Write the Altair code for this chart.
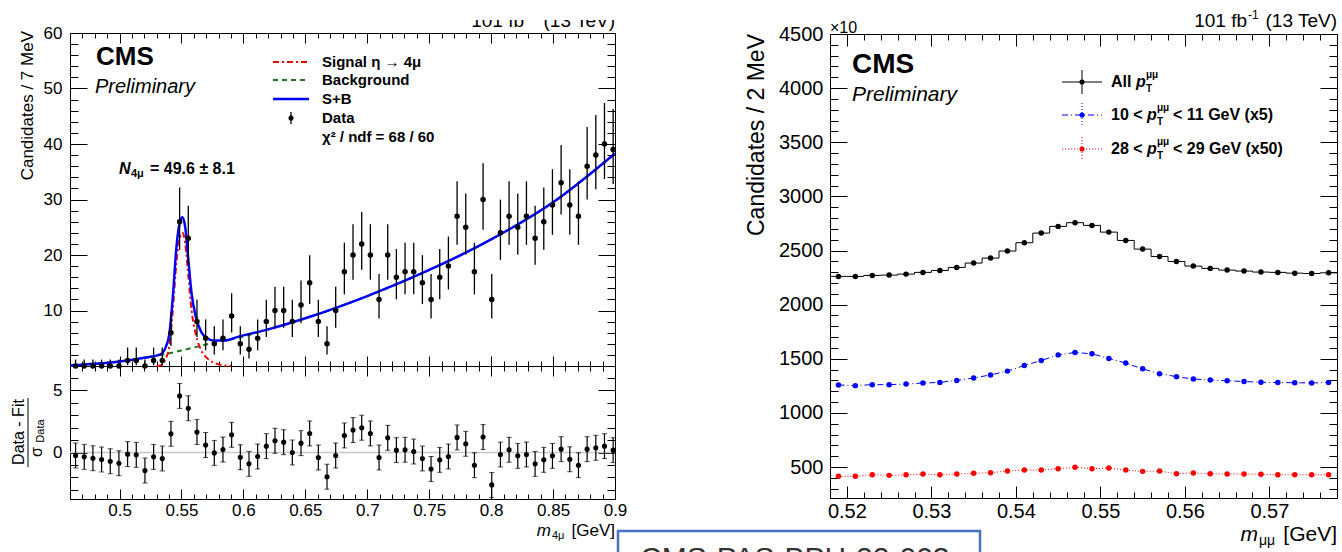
import math
import altair as alt
import pandas as pd

W, H = 1342, 552
FONT = "Liberation Sans"

# ---------------- eta -> 4mu candidates (7 MeV bins) ----------------
m4mu = [round(0.4645 + 0.007 * k, 4) for k in range(63)]
n4mu = [0, 0, 0, 0, 0, 0, 1, 1, 0, 1,
        1, 6, 26, 23, 8, 5, 4, 5, 9, 4,
        3, 5, 8, 10, 10, 8, 11, 15, 8, 4,
        10, 17, 20, 22, 20, 12, 20, 16, 17, 17,
        15, 12, 16, 18, 27, 25, 17, 30, 12, 24,
        27, 25, 27, 23, 26, 29, 33, 29, 27, 36,
        38, 40, 39]
pull4mu = [-0.24, -0.35, -0.46, -0.56, -0.70, -0.86, -0.13, -0.19, -1.45, -0.35,
           -0.48, 1.50, 4.54, 3.55, 1.64, 0.60, -0.03, 0.24, 1.42, -0.38,
           -0.91, -0.32, 0.51, 0.94, 0.83, 0.00, 0.75, 1.53, -0.40, -1.94,
           -0.24, 1.37, 1.80, 1.99, 1.53, -0.40, 1.18, 0.19, 0.22, 0.08,
           -0.48, -1.32, -0.59, -0.32, 1.21, 0.70, -1.02, 1.24, -2.60, -0.16,
           0.22, -0.27, -0.16, -0.91, -0.59, -0.27, 0.27, -0.54, -1.02, 0.27,
           0.38, 0.51, 0.19]

# fitted shapes
sb_x = [0.460, 0.480, 0.500, 0.520, 0.533, 0.5373, 0.5402, 0.5430, 0.5459, 0.5488,
        0.5508, 0.5531, 0.5554, 0.5582, 0.5617, 0.5660, 0.5703, 0.5760, 0.5846, 0.5961,
        0.620, 0.650, 0.700, 0.750, 0.800, 0.850, 0.900]
sb_y = [0.1, 0.4, 0.8, 1.5, 2.1, 3.4, 5.8, 12.4, 21.3, 26.0,
        26.8, 24.9, 19.5, 13.0, 8.8, 6.1, 5.1, 4.6, 4.6, 5.3,
        6.6, 8.6, 12.6, 17.3, 22.8, 29.5, 38.3]
bkg_x = [0.460, 0.480, 0.500, 0.520, 0.536, 0.550, 0.565, 0.580, 0.590, 0.620,
         0.650, 0.700, 0.750, 0.800, 0.850, 0.900]
bkg_y = [0.1, 0.4, 0.8, 1.5, 2.1, 2.8, 3.6, 4.4, 4.8, 6.6,
         8.6, 12.6, 17.3, 22.8, 29.5, 38.3]
sig_x = [0.530, 0.5330, 0.5373, 0.5402, 0.5430, 0.5459, 0.5488, 0.5508, 0.5531, 0.5554,
         0.5582, 0.5617, 0.5660, 0.5703, 0.5760, 0.5820, 0.5900]
sig_y = [0.0, 0.1, 1.3, 3.6, 10.0, 18.6, 23.2, 24.0, 21.9, 16.5,
         10.0, 5.6, 2.8, 1.5, 0.6, 0.2, 0.0]

# ---------------- dimuon mass (2 MeV bins) ----------------
mmumu = [round(0.519 + 0.002 * k, 3) for k in range(30)]
all_pt = [2261, 2261, 2270, 2273, 2282, 2298, 2316, 2344, 2384, 2430,
          2495, 2572, 2661, 2723, 2757, 2732, 2670, 2593, 2513, 2445,
          2399, 2356, 2335, 2319, 2310, 2301, 2298, 2291, 2288, 2294]
pt10_11 = [1258, 1252, 1261, 1261, 1267, 1276, 1282, 1300, 1323, 1351,
           1386, 1438, 1484, 1536, 1558, 1546, 1503, 1460, 1407, 1362,
           1335, 1313, 1303, 1297, 1290, 1283, 1280, 1279, 1276, 1282]
pt28_29 = [414, 414, 429, 423, 429, 436, 429, 436, 442, 448,
           463, 472, 472, 485, 497, 485, 491, 472, 460, 463,
           439, 445, 439, 436, 436, 433, 429, 429, 429, 429]

# ---------------- panel geometry ----------------
LX_D, LX_R = [0.46, 0.90], [70, 615]
LT_D, LT_R = [0, 60], [366, 33]
LR_D, LR_R = [-3.73, 6.94], [499, 366]
RX_D, RX_R = [0.518, 0.578], [830, 1337]
RY_D, RY_R = [214, 4500], [498, 34]


def lin(d, r):
    return alt.Scale(domain=d, range=r, nice=False, zero=False)


def tsize(step, big, small):
    return {"condition": {"test": f"abs(datum.value / {step} - round(datum.value / {step})) < 0.001",
                          "value": big},
            "value": small}


def frame(xd, xr, yd, yr, xticks, xstep, xlen, xlabels, yticks, ystep, ylen, ylabels,
          lsize, xpad, ypad):
    df = pd.DataFrame({"u": xd, "v": yd})
    base = alt.Chart(df).mark_point(opacity=0)
    st = dict(grid=False, title=None, labelFont=FONT, labelColor="black", labelFontSize=lsize,
              labelFlush=False, labelOverlap=False, domainColor="black", domainWidth=1,
              tickColor="black", tickWidth=1)
    lab = base.encode(
        x=alt.X("u:Q", scale=lin(xd, xr),
                axis=alt.Axis(orient="bottom", offset=yr[0] - H, values=xlabels if xlabels else xticks,
                              labels=bool(xlabels), ticks=False, tickSize=0, labelPadding=xpad,
                              format=".2~f", **st)),
        y=alt.Y("v:Q", scale=lin(yd, yr),
                axis=alt.Axis(orient="left", offset=-xr[0], values=ylabels, ticks=False, tickSize=0,
                              labelPadding=ypad, format="d", **st)),
    )
    inner = base.encode(
        x=alt.X("u:Q", scale=lin(xd, xr),
                axis=alt.Axis(orient="top", offset=-yr[0], values=xticks, labels=False, domain=False,
                              tickSize=tsize(xstep, *xlen), **st)),
        y=alt.Y("v:Q", scale=lin(yd, yr),
                axis=alt.Axis(orient="right", offset=xr[0] - W, values=yticks, labels=False, domain=False,
                              tickSize=tsize(ystep, *ylen), **st)),
    )
    outer = base.encode(
        x=alt.X("u:Q", scale=lin(xd, xr),
                axis=alt.Axis(orient="bottom", offset=yr[1] - H, values=xticks, labels=False,
                              tickSize=tsize(xstep, *xlen), **st)),
        y=alt.Y("v:Q", scale=lin(yd, yr),
                axis=alt.Axis(orient="left", offset=-xr[1], values=yticks, labels=False,
                              tickSize=tsize(ystep, *ylen), **st)),
    )
    return [lab, inner, outer]


def one():
    return pd.DataFrame({"a": [0]})


def text(s, x, y, size, weight="normal", style="normal", align="left", baseline="middle",
         angle=0, color="black"):
    return alt.Chart(pd.DataFrame({"s": [s]})).mark_text(
        font=FONT, fontSize=size, fontWeight=weight, fontStyle=style, align=align,
        baseline=baseline, angle=angle, color=color
    ).encode(text="s:N", x=alt.value(x), y=alt.value(y))


def hline(x1, x2, y, color, width=1.0, dash=None):
    kw = dict(color=color, strokeWidth=width)
    if dash:
        kw["strokeDash"] = dash
    return alt.Chart(one()).mark_rule(**kw).encode(x=alt.value(x1), x2=alt.value(x2), y=alt.value(y))


def vline(x, y1, y2, color, width=1.0, dash=None):
    kw = dict(color=color, strokeWidth=width)
    if dash:
        kw["strokeDash"] = dash
    return alt.Chart(one()).mark_rule(**kw).encode(x=alt.value(x), y=alt.value(y1), y2=alt.value(y2))


def dot(x, y, color, size=30):
    return alt.Chart(one()).mark_circle(color=color, size=size, opacity=1).encode(
        x=alt.value(x), y=alt.value(y))


def curve(xs, ys, color, width, dash=None, interp="monotone"):
    kw = dict(color=color, strokeWidth=width, interpolate=interp)
    if dash:
        kw["strokeDash"] = dash
    df = pd.DataFrame({"x": xs, "y": ys})
    return alt.Chart(df).mark_line(**kw).encode(
        x=alt.X("x:Q", scale=lin(LX_D, LX_R), axis=None),
        y=alt.Y("y:Q", scale=lin(LT_D, LT_R), axis=None))


layers = []

# ---- frames and axes ----
lx_ticks = [round(0.46 + 0.01 * i, 2) for i in range(45)]
lx_labels = [round(0.5 + 0.05 * i, 2) for i in range(9)]
layers += frame(LX_D, LX_R, LT_D, LT_R, lx_ticks, 0.05, (10, 5), None,
                list(range(0, 61, 2)), 10, (17, 8), list(range(10, 61, 10)), 17, 3, 8)
layers += frame(LX_D, LX_R, LR_D, LR_R, lx_ticks, 0.05, (10, 5), lx_labels,
                list(range(-3, 7)), 5, (17, 8), [0, 5], 17, 3, 8)
rx_ticks = [round(0.518 + 0.002 * i, 3) for i in range(31)]
rx_labels = [round(0.52 + 0.01 * i, 2) for i in range(6)]
layers += frame(RX_D, RX_R, RY_D, RY_R, rx_ticks, 0.01, (12, 6), rx_labels,
                list(range(300, 4501, 100)), 500, (17, 8), list(range(500, 4501, 500)), 20, 3, 7)

# ---- upper left: candidates with fit ----
top_df = pd.DataFrame({
    "m": m4mu, "n": n4mu,
    "lo": [0.0 if n == 0 else n - math.sqrt(n - 0.25) for n in n4mu],
    "hi": [1.15 if n == 0 else n + 1 + math.sqrt(n + 0.75) for n in n4mu],
})
layers.append(curve(bkg_x, bkg_y, "#1e7a1e", 2, [5, 4]))
layers.append(curve(sig_x, sig_y, "#ff0000", 2, [6, 3, 2, 3]))
layers.append(curve(sb_x, sb_y, "#0000ff", 2.5))
layers.append(alt.Chart(top_df).mark_rule(color="black", strokeWidth=1.3).encode(
    x=alt.X("m:Q", scale=lin(LX_D, LX_R), axis=None),
    y=alt.Y("lo:Q", scale=lin(LT_D, LT_R), axis=None), y2="hi:Q"))
layers.append(alt.Chart(top_df).mark_circle(color="black", size=30, opacity=1).encode(
    x=alt.X("m:Q", scale=lin(LX_D, LX_R), axis=None),
    y=alt.Y("n:Q", scale=lin(LT_D, LT_R), axis=None)))

# ---- lower left: pulls ----
pull_df = pd.DataFrame({"m": m4mu, "p": pull4mu,
                        "lo": [p - 1.0 for p in pull4mu], "hi": [p + 1.0 for p in pull4mu]})
layers.append(alt.Chart(pd.DataFrame({"a": [LX_D[0]], "b": [LX_D[1]], "z": [0.0]})).mark_rule(
    color="#c8c8c8", strokeWidth=1.5).encode(
    x=alt.X("a:Q", scale=lin(LX_D, LX_R), axis=None), x2="b:Q",
    y=alt.Y("z:Q", scale=lin(LR_D, LR_R), axis=None)))
layers.append(alt.Chart(pull_df).mark_rule(color="black", strokeWidth=1.2).encode(
    x=alt.X("m:Q", scale=lin(LX_D, LX_R), axis=None),
    y=alt.Y("lo:Q", scale=lin(LR_D, LR_R), axis=None), y2="hi:Q"))
for col in ("lo", "hi"):
    layers.append(alt.Chart(pull_df).mark_tick(color="black", orient="horizontal", size=5, thickness=1).encode(
        x=alt.X("m:Q", scale=lin(LX_D, LX_R), axis=None),
        y=alt.Y(f"{col}:Q", scale=lin(LR_D, LR_R), axis=None)))
layers.append(alt.Chart(pull_df).mark_circle(color="black", size=26, opacity=1).encode(
    x=alt.X("m:Q", scale=lin(LX_D, LX_R), axis=None),
    y=alt.Y("p:Q", scale=lin(LR_D, LR_R), axis=None)))

# ---- right: dimuon mass spectra ----
step_df = pd.DataFrame({"x": [round(m - 0.001, 3) for m in mmumu] + [RX_D[1]],
                        "y": all_pt + [all_pt[-1]]})
layers.append(alt.Chart(step_df).mark_line(color="black", strokeWidth=1, interpolate="step-after").encode(
    x=alt.X("x:Q", scale=lin(RX_D, RX_R), axis=None),
    y=alt.Y("y:Q", scale=lin(RY_D, RY_R), axis=None)))
r_df = pd.DataFrame({"m": mmumu, "all": all_pt, "b": pt10_11, "r": pt28_29})
for col, color, dash in (("b", "#0000ff", [6, 3, 1, 3]), ("r", "#ff0000", [1, 2])):
    layers.append(alt.Chart(r_df).mark_line(color=color, strokeWidth=1, strokeDash=dash).encode(
        x=alt.X("m:Q", scale=lin(RX_D, RX_R), axis=None),
        y=alt.Y(f"{col}:Q", scale=lin(RY_D, RY_R), axis=None)))
for col, color in (("all", "black"), ("b", "#0000ff"), ("r", "#ff0000")):
    layers.append(alt.Chart(r_df).mark_circle(color=color, size=30, opacity=1).encode(
        x=alt.X("m:Q", scale=lin(RX_D, RX_R), axis=None),
        y=alt.Y(f"{col}:Q", scale=lin(RY_D, RY_R), axis=None)))

# ---- left panel annotations ----
layers += [
    text("CMS", 96, 57, 26, weight="bold"),
    text("Preliminary", 95, 87, 20, style="italic"),
    hline(273, 309, 62, "#ff0000", 2, [6, 3, 2, 3]),
    hline(273, 309, 80, "#1e7a1e", 2, [5, 4]),
    hline(273, 309, 99, "#0000ff", 2.5),
    vline(291, 112, 124, "black", 1.3),
    dot(291, 118, "black", 26),
    text("Signal η → 4μ", 322, 62, 15, weight="bold"),
    text("Background", 322, 80, 15, weight="bold"),
    text("S+B", 322, 99, 15, weight="bold"),
    text("Data", 322, 118, 15, weight="bold"),
    text("χ² / ndf = 68 / 60", 322, 137, 15, weight="bold"),
    text("N", 119, 169, 16, weight="bold", style="italic"),
    text("4μ", 131, 174, 11, weight="bold"),
    text("= 49.6 ± 8.1", 150, 169, 16, weight="bold"),
    text("Candidates / 7 MeV", 28, 31, 17, align="right", angle=270),
    text("Data - Fit", 19, 432, 16, align="center", angle=270),
    vline(28, 398, 467, "black", 1),
    text("σ", 37, 452, 16, align="center", angle=270),
    text("Data", 41, 431, 11, align="center", angle=270),
    text("m", 551, 531, 17, style="italic", align="right"),
    text("4μ", 552, 536, 11),
    text("[GeV]", 615, 531, 17, align="right"),
    text("(13 TeV)", 615, 27, 19, align="right", baseline="alphabetic"),
    text("-1", 525, 19, 12, baseline="alphabetic"),
    text("101 fb", 524, 27, 19, align="right", baseline="alphabetic"),
]

# ---- right panel annotations ----
layers += [
    text("CMS", 852, 65, 28, weight="bold"),
    text("Preliminary", 852, 95, 21, style="italic"),
    text("×10", 830, 33, 16, baseline="alphabetic"),
    text("(13 TeV)", 1337, 27, 19, align="right", baseline="alphabetic"),
    text("-1", 1248, 19, 12, baseline="alphabetic"),
    text("101 fb", 1247, 27, 19, align="right", baseline="alphabetic"),
    text("Candidates / 2 MeV", 757, 34, 23, align="right", angle=270),
    text("m", 1258, 535, 21, style="italic", align="right"),
    text("μμ", 1259, 541, 14),
    text("[GeV]", 1337, 535, 21, align="right"),
    # legend
    hline(1062, 1102, 82, "black", 1),
    vline(1082, 70, 94, "black", 1),
    dot(1082, 82, "black", 26),
    hline(1062, 1102, 115, "#0000ff", 1, [6, 3, 1, 3]),
    vline(1082, 103, 127, "#0000ff", 1, [1, 2]),
    dot(1082, 115, "#0000ff", 26),
    hline(1062, 1102, 149, "#ff0000", 1, [1, 2]),
    vline(1082, 137, 161, "#ff0000", 1, [1, 2]),
    dot(1082, 149, "#ff0000", 26),
]
for y, pre, post in ((82, "All", None), (115, "10 <", "< 11 GeV (x5)"), (149, "28 <", "< 29 GeV (x50)")):
    px = 1136 if post is None else 1147
    layers += [
        text(pre, 1111, y, 16, weight="bold"),
        text("p", px, y, 16, weight="bold", style="italic"),
        text("T", px + 10, y + 7, 10, weight="bold"),
        text("μμ", px + 10, y - 7, 10, weight="bold"),
    ]
    if post:
        layers.append(text(post, px + 26, y, 16, weight="bold"))

# banner overlapping the top edge, and the document box at the bottom
layers.append(alt.Chart(one()).mark_rect(fill="white").encode(
    x=alt.value(0), x2=alt.value(880), y=alt.value(0), y2=alt.value(20)))
layers.append(alt.Chart(one()).mark_rect(fill="white", stroke="#4472c4", strokeWidth=2.5).encode(
    x=alt.value(618), x2=alt.value(980), y=alt.value(531), y2=alt.value(600)))
layers.append(text("CMS-PAS-BPH-22-003", 640, 568, 30, baseline="alphabetic", color="#333333"))

chart = alt.layer(*layers).resolve_scale(x="independent", y="independent").properties(
    width=W, height=H, padding=0, autosize=alt.AutoSizeParams(type="none")
).configure_view(stroke=None).configure_axis(grid=False)

chart.save("out.html", embed_options={"renderer": "svg", "actions": False})
